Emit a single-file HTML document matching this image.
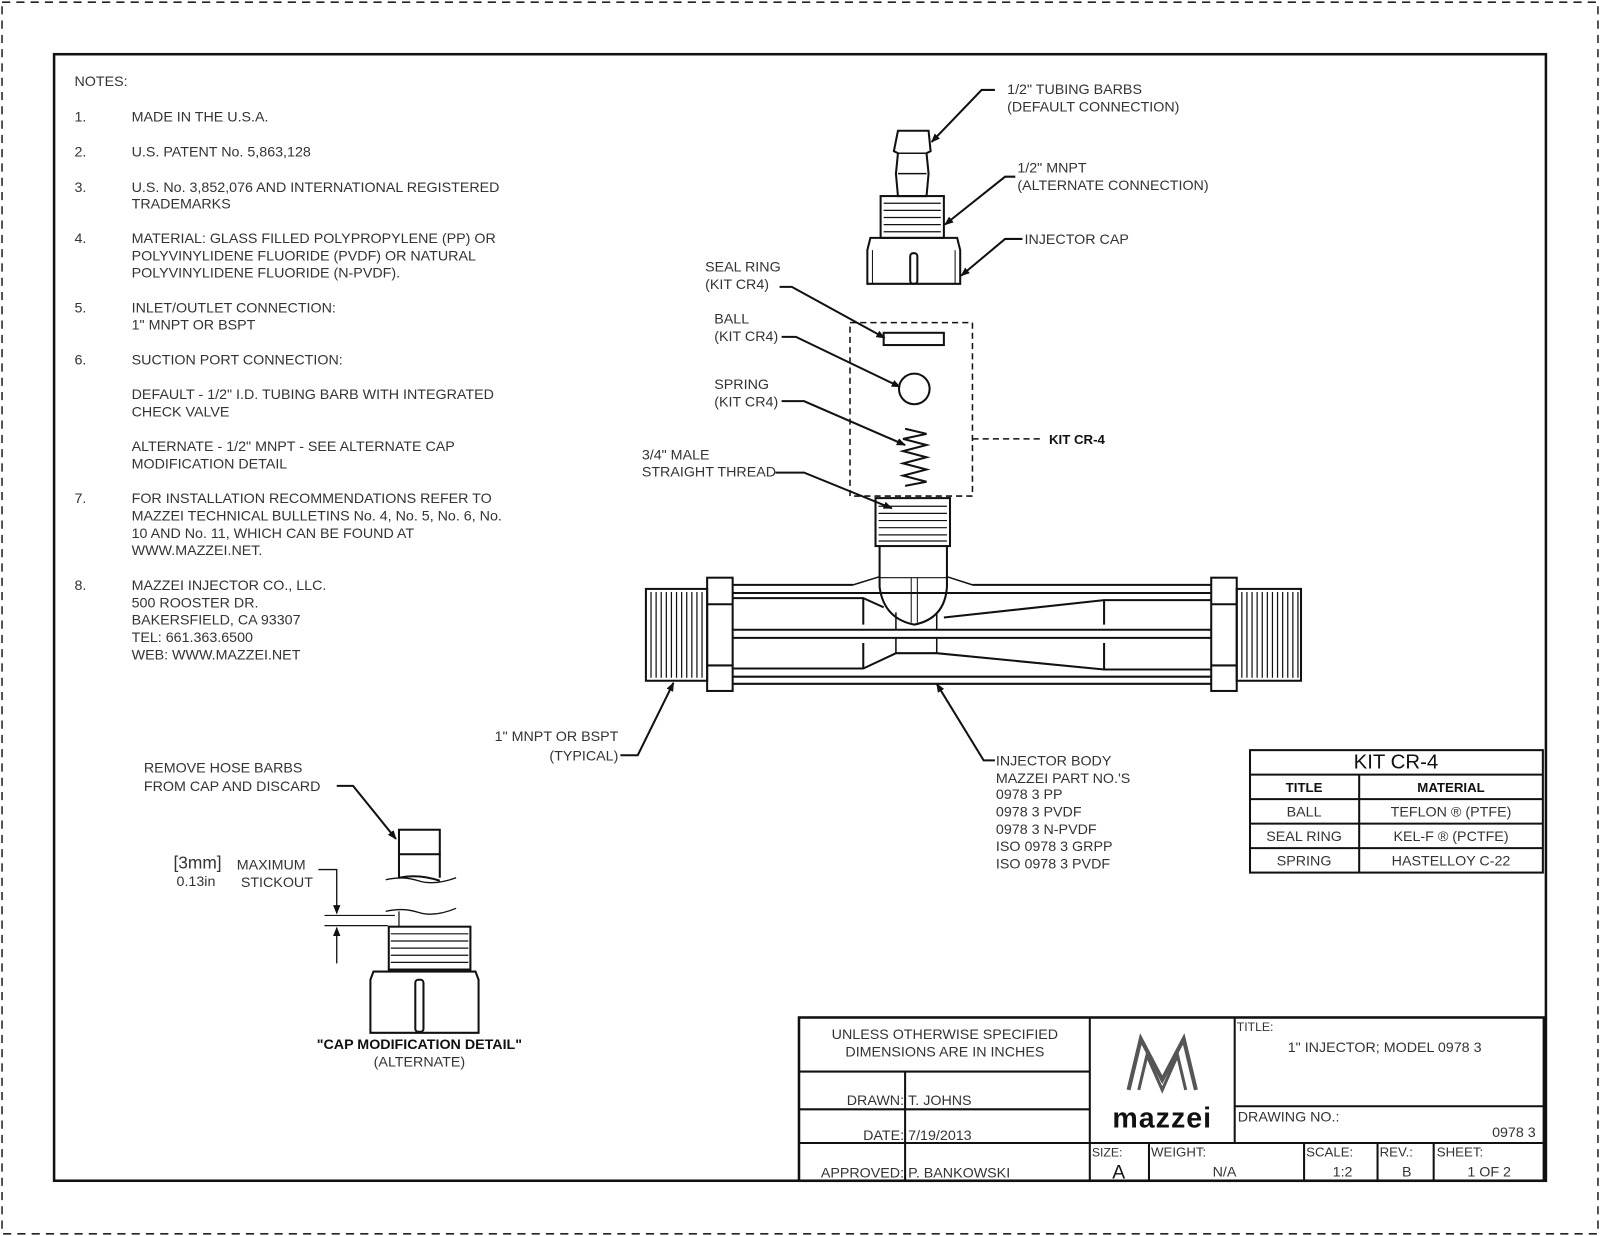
<!DOCTYPE html>
<html><head><meta charset="utf-8"><style>
html,body{margin:0;padding:0;background:#fff;}
svg{display:block;}
text{font-family:"Liberation Sans",sans-serif;fill:#333;font-size:14px;}
.b{font-weight:bold;fill:#111;}
</style></head><body>
<svg width="1600" height="1236" viewBox="0 0 1568 1211" xmlns="http://www.w3.org/2000/svg">
<defs><marker id="a" viewBox="0 0 10 10" refX="9" refY="5" markerWidth="9" markerHeight="9" orient="auto-start-reverse" markerUnits="userSpaceOnUse"><path d="M0,1 L10,5 L0,9 z" fill="#111"/></marker></defs>
<rect x="2" y="2" width="1564" height="1207" fill="none" stroke="#222" stroke-width="1.5" stroke-dasharray="8,6"/>
<rect x="53" y="53" width="1462" height="1104" fill="none" stroke="#111" stroke-width="2.5"/>

<g>
<text x="73" y="84">NOTES:</text>
<text x="73" y="119">1.</text><text x="129" y="119">MADE IN THE U.S.A.</text>
<text x="73" y="153">2.</text><text x="129" y="153">U.S. PATENT No. 5,863,128</text>
<text x="73" y="188">3.</text><text x="129" y="188">U.S. No. 3,852,076 AND INTERNATIONAL REGISTERED</text><text x="129" y="204">TRADEMARKS</text>
<text x="73" y="238">4.</text><text x="129" y="238">MATERIAL: GLASS FILLED POLYPROPYLENE (PP) OR</text><text x="129" y="255">POLYVINYLIDENE FLUORIDE (PVDF) OR NATURAL</text><text x="129" y="272">POLYVINYLIDENE FLUORIDE (N-PVDF).</text>
<text x="73" y="306">5.</text><text x="129" y="306">INLET/OUTLET CONNECTION:</text><text x="129" y="323"> 1" MNPT OR BSPT</text>
<text x="73" y="357">6.</text><text x="129" y="357">SUCTION PORT CONNECTION:</text>
<text x="129" y="391">DEFAULT - 1/2" I.D. TUBING BARB WITH INTEGRATED</text><text x="129" y="408">CHECK VALVE</text>
<text x="129" y="442">ALTERNATE - 1/2" MNPT - SEE ALTERNATE CAP</text><text x="129" y="459">MODIFICATION DETAIL</text>
<text x="73" y="493">7.</text><text x="129" y="493">FOR INSTALLATION RECOMMENDATIONS REFER TO</text><text x="129" y="510">MAZZEI TECHNICAL BULLETINS No. 4, No. 5, No. 6, No.</text><text x="129" y="527">10 AND No. 11, WHICH CAN BE FOUND AT</text><text x="129" y="544">WWW.MAZZEI.NET.</text>
<text x="73" y="578">8.</text><text x="129" y="578">MAZZEI INJECTOR CO., LLC.</text><text x="129" y="595">500 ROOSTER DR.</text><text x="129" y="612">BAKERSFIELD, CA 93307</text><text x="129" y="629">TEL: 661.363.6500</text><text x="129" y="646">WEB: WWW.MAZZEI.NET</text>
</g>

<g fill="none" stroke="#111" stroke-width="2">
<!-- top cap assembly -->
<path d="M880,128 H910 L912,148 L908,150 L910,170 L908,192 H880 L878,170 L880,150 L876,148 Z"/>
<path d="M880,150H908M880,170H908" stroke-width="1.5"/>
<rect x="863" y="192" width="62" height="41"/>
<path d="M866,199H922M866,206H922M866,213H922M866,220H922M866,227H922" stroke-width="1.2"/>
<path d="M853,233 H938 L941,245 V278 H850 V245 Z"/>
<path d="M855,245V278M936,245V278" stroke-width="1"/>
<rect x="892" y="248" width="7" height="30" rx="3"/>
<rect x="866" y="326" width="59" height="12"/>
<circle cx="896" cy="381" r="15"/>
<path d="M887,420 L908,425 L885,430 L908,436 L885,442 L908,448 L885,454 L908,460 L885,466 L908,472 L887,476"/>
<rect x="833" y="316" width="120" height="170" stroke-dasharray="6,4" stroke-width="1.5"/>
<path d="M953,430 H1023" stroke-dasharray="6,4" stroke-width="1.5"/>
<rect x="858" y="488" width="73" height="47"/>
<path d="M861,496H928M861,503H928M861,510H928M861,517H928M861,524H928M861,530H928" stroke-width="1.2"/>
<path d="M862,535 V575 Q866,606 896,612 Q926,606 928,575 V535"/>
<path d="M862,566 H928" stroke-width="1.2"/>
<path d="M893,566 V610 M899,566 V610" stroke-width="1"/>
<path d="M862,565 L836,573 M928,565 L953,573" stroke-width="1.5"/>
<rect x="633" y="577" width="60" height="90"/>
<path d="M638,580V664M643,580V664M648,580V664M653,580V664M658,580V664M663,580V664M668,580V664M673,580V664M678,580V664M683,580V664M688,580V664" stroke-width="1.2"/>
<rect x="693" y="566" width="25" height="111"/>
<path d="M693,592H718M693,652H718"/>
<rect x="1212" y="577" width="63" height="90"/>
<path d="M1217,580V664M1222,580V664M1227,580V664M1232,580V664M1237,580V664M1242,580V664M1247,580V664M1252,580V664M1257,580V664M1262,580V664M1267,580V664M1272,580V664" stroke-width="1.2"/>
<rect x="1187" y="566" width="25" height="111"/>
<path d="M1187,592H1212M1187,652H1212"/>
<path d="M718,573H836 M953,573H1187 M718,581H1187 M718,663H1187 M718,670H1187 M718,617H1187 M718,625H1187"/>
<path d="M846,586V612 M846,630V655 M1082,588V612 M1082,630V656"/>
<path d="M718,586H846 L866,595 M925,605 L1082,588 H1187"/>
<path d="M718,655H846 L878,640 H918 L1082,656 H1187"/>
<path d="M878,625V640 M918,625V640 M878,600V617 M918,600V617" stroke-width="1.5"/>
<rect x="1225" y="735" width="287" height="120"/>
<path d="M1225,759H1512M1225,783H1512M1225,807H1512M1225,831H1512M1332,759V855"/>
<rect x="783" y="997" width="730" height="160" stroke-width="2.5"/>
<path d="M783,1050H1068M783,1087H1068M783,1120H1513M887,1050V1157M1068,997V1157M1210,997V1120M1210,1084H1513M1126,1120V1157M1278,1120V1157M1350,1120V1157M1405,1120V1157"/>
<rect x="391" y="813" width="40" height="24"/><path d="M391,837V860M431,837V860M391,860 Q410,856 431,863"/>
<path d="M378,862 Q395,858 410,863 T447,860" stroke-width="1.3"/>
<path d="M378,893 Q395,889 410,894 T447,890" stroke-width="1.3"/>
<path d="M391,893V908" stroke-width="1.2"/>
<rect x="381" y="908" width="80" height="42"/>
<path d="M383,915H459M383,922H459M383,929H459M383,936H459M383,943H459" stroke-width="1.2"/>
<path d="M366,952H466L469,960V1012H363V960Z"/>
<rect x="407" y="960" width="8" height="51" rx="3"/>
<path d="M318,897H387M318,907H380" stroke-width="1.2"/>
<path d="M312,852H330V895" marker-end="url(#a)" stroke-width="1.3"/>
<path d="M330,944V909" marker-end="url(#a)" stroke-width="1.3"/>
</g>

<g fill="none" stroke="#111" stroke-width="2">
<path d="M975,88H962L913,139" marker-end="url(#a)"/>
<path d="M995,173H985L926,220" marker-end="url(#a)"/>
<path d="M1002,234H985L942,270" marker-end="url(#a)"/>
<path d="M764,281H776L867,331" marker-end="url(#a)"/>
<path d="M766,330H780L882,379" marker-end="url(#a)"/>
<path d="M766,393H788L887,436" marker-end="url(#a)"/>
<path d="M760,463H788L874,498" marker-end="url(#a)"/>
<path d="M608,740H625L660,669" marker-end="url(#a)"/>
<path d="M975,745H964L918,670" marker-end="url(#a)"/>
<path d="M330,770H346L388,822" marker-end="url(#a)"/>
</g>

<text x="987" y="92">1/2" TUBING BARBS</text><text x="987" y="109">(DEFAULT CONNECTION)</text>
<text x="997" y="169">1/2" MNPT</text><text x="997" y="186">(ALTERNATE CONNECTION)</text>
<text x="1004" y="239">INJECTOR CAP</text>
<text x="691" y="266">SEAL RING</text><text x="691" y="283">(KIT CR4)</text>
<text x="700" y="317">BALL</text><text x="700" y="334">(KIT CR4)</text>
<text x="700" y="381">SPRING</text><text x="700" y="398">(KIT CR4)</text>
<text x="1028" y="435" class="b" style="font-size:13px">KIT CR-4</text>
<text x="629" y="450">3/4" MALE</text><text x="629" y="467">STRAIGHT THREAD</text>
<text x="606" y="726" text-anchor="end">1" MNPT OR BSPT</text><text x="606" y="745" text-anchor="end">(TYPICAL)</text>
<text x="976" y="750">INJECTOR BODY</text><text x="976" y="767">MAZZEI PART NO.'S</text><text x="976" y="783">0978 3 PP</text><text x="976" y="800">0978 3 PVDF</text><text x="976" y="817">0978 3 N-PVDF</text><text x="976" y="834">ISO 0978 3 GRPP</text><text x="976" y="851">ISO 0978 3 PVDF</text>

<text x="1368" y="753" text-anchor="middle" style="font-size:20px;fill:#111">KIT CR-4</text>
<text x="1278" y="776" text-anchor="middle" class="b" style="font-size:13px">TITLE</text>
<text x="1422" y="776" text-anchor="middle" class="b" style="font-size:13px">MATERIAL</text>
<text x="1278" y="800" text-anchor="middle">BALL</text><text x="1422" y="800" text-anchor="middle">TEFLON ® (PTFE)</text>
<text x="1278" y="824" text-anchor="middle">SEAL RING</text><text x="1422" y="824" text-anchor="middle">KEL-F ® (PCTFE)</text>
<text x="1278" y="848" text-anchor="middle">SPRING</text><text x="1422" y="848" text-anchor="middle">HASTELLOY C-22</text>

<text x="141" y="757">REMOVE HOSE BARBS</text><text x="141" y="775">FROM CAP AND DISCARD</text>
<text x="170" y="851" style="font-size:17px">[3mm]</text><text x="173" y="868">0.13in</text>
<text x="232" y="852">MAXIMUM</text><text x="236" y="869">STICKOUT</text>
<text x="411" y="1028" text-anchor="middle" class="b">"CAP MODIFICATION DETAIL"</text>
<text x="411" y="1045" text-anchor="middle">(ALTERNATE)</text>

<text x="926" y="1018" text-anchor="middle">UNLESS OTHERWISE SPECIFIED</text>
<text x="926" y="1035" text-anchor="middle">DIMENSIONS ARE IN INCHES</text>
<text x="886" y="1083" text-anchor="end">DRAWN:</text><text x="890" y="1083">T. JOHNS</text>
<text x="886" y="1117" text-anchor="end">DATE:</text><text x="890" y="1117">7/19/2013</text>
<text x="886" y="1154" text-anchor="end">APPROVED:</text><text x="890" y="1154">P. BANKOWSKI</text>
<text x="1212" y="1010" style="font-size:12px">TITLE:</text>
<text x="1262" y="1031">1" INJECTOR; MODEL 0978 3</text>
<text x="1213" y="1099">DRAWING NO.:</text>
<text x="1505" y="1114" text-anchor="end">0978 3</text>
<text x="1070" y="1133" style="font-size:12px">SIZE:</text><text x="1090" y="1155" style="font-size:19px;fill:#111">A</text>
<text x="1128" y="1133" style="font-size:13px">WEIGHT:</text><text x="1200" y="1153" text-anchor="middle">N/A</text>
<text x="1280" y="1133" style="font-size:13px">SCALE:</text><text x="1306" y="1153">1:2</text>
<text x="1352" y="1133" style="font-size:13px">REV.:</text><text x="1374" y="1153">B</text>
<text x="1408" y="1133" style="font-size:13px">SHEET:</text><text x="1438" y="1153">1 OF 2</text>
<g fill="none" stroke="#555" stroke-width="4">
<path d="M1106,1068 L1118,1018 L1139,1058 L1160,1018 L1172,1068"/>
<path d="M1116,1068 L1124,1034 L1139,1068 L1154,1034 L1162,1068" stroke-width="3"/>
</g>
<text x="1139" y="1105" text-anchor="middle" class="b" style="font-size:28px;letter-spacing:1px">mazzei</text>
</svg>
</body></html>
